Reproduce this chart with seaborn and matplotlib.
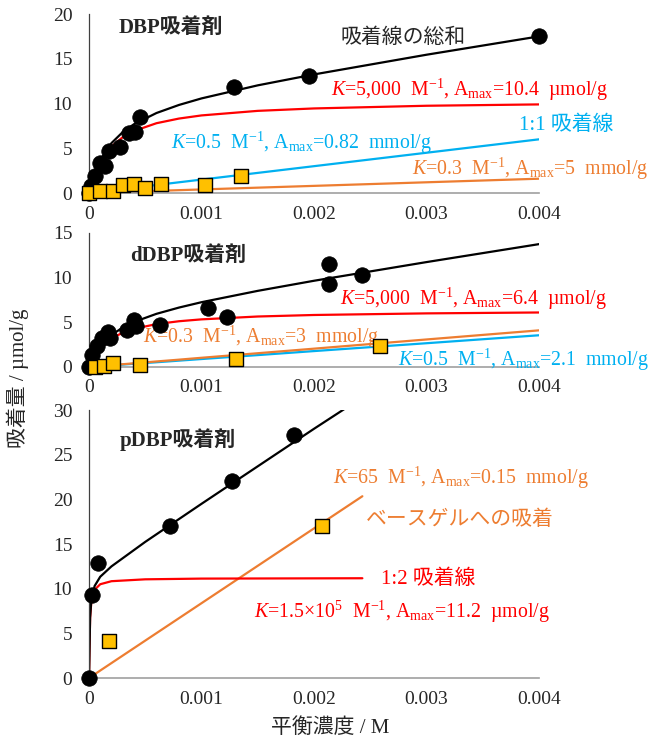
import numpy as np
import seaborn as sns
from matplotlib import pyplot as plt

# ---- DBP panel ----
dbp_circle_c = [0.0, 0.00002, 0.00005, 0.0001, 0.00014, 0.00018, 0.00028, 0.00036, 0.00041, 0.00045, 0.00129, 0.00196, 0.004]
dbp_circle_q = [0.0, 0.8, 1.9, 3.4, 3.0, 4.7, 5.1, 6.7, 6.8, 8.5, 11.8, 13.1, 17.5]
dbp_square_c = [0.0, 0.0001, 0.00021, 0.0003, 0.0004, 0.0005, 0.00064, 0.00103, 0.00135]
dbp_square_q = [0.05, 0.2, 0.25, 0.9, 1.0, 0.6, 1.0, 0.95, 1.85]

dbp_curve_c = [0.0, 0.00005, 0.0001, 0.0002, 0.0003, 0.0004, 0.0006, 0.0008, 0.001, 0.0015, 0.002, 0.003, 0.004]
dbp_red_q = [0.0, 2.08, 3.47, 5.2, 6.24, 6.93, 7.8, 8.32, 8.67, 9.18, 9.45, 9.75, 9.9]
dbp_blue_q = [0.0, 0.08, 0.15, 0.3, 0.45, 0.6, 0.9, 1.2, 1.5, 2.25, 3.0, 4.5, 6.0]
dbp_orange_q = [0.0, 0.02, 0.04, 0.08, 0.12, 0.16, 0.24, 0.32, 0.4, 0.6, 0.8, 1.2, 1.6]
dbp_sum_q = [0.0, 2.18, 3.66, 5.58, 6.81, 7.69, 8.94, 9.84, 10.57, 12.03, 13.25, 15.45, 17.5]

# ---- dDBP panel ----
ddbp_circle_c = [0.0, 0.00003, 0.00007, 0.00012, 0.00017, 0.00019, 0.00034, 0.0004, 0.00042, 0.00063, 0.00106, 0.00123, 0.00213, 0.00213, 0.00243]
ddbp_circle_q = [0.0, 1.35, 2.3, 3.2, 3.9, 3.3, 4.1, 5.3, 4.6, 4.7, 6.6, 5.6, 11.5, 9.3, 10.3]
ddbp_square_c = [0.00005, 0.00013, 0.00021, 0.00045, 0.00131, 0.00259]
ddbp_square_q = [0.0, 0.1, 0.4, 0.25, 0.9, 2.3]

ddbp_curve_c = [0.0, 0.00005, 0.0001, 0.0002, 0.0003, 0.0004, 0.0006, 0.0008, 0.001, 0.0015, 0.002, 0.003, 0.004]
ddbp_red_q = [0.0, 1.28, 2.13, 3.2, 3.84, 4.27, 4.8, 5.12, 5.33, 5.65, 5.82, 6.0, 6.1]
ddbp_orange_q = [0.0, 0.05, 0.1, 0.2, 0.31, 0.41, 0.62, 0.82, 1.03, 1.54, 2.05, 3.08, 4.1]
ddbp_blue_q = [0.0, 0.04, 0.09, 0.18, 0.27, 0.36, 0.53, 0.71, 0.89, 1.33, 1.78, 2.66, 3.55]
ddbp_sum_q = [0.0, 1.37, 2.32, 3.58, 4.42, 5.04, 5.95, 6.65, 7.25, 8.52, 9.65, 11.74, 13.75]

# ---- pDBP panel ----
pdbp_circle_c = [0.0, 0.00003, 0.00008, 0.00072, 0.00127, 0.00182]
pdbp_circle_q = [0.0, 9.35, 12.9, 17.0, 22.1, 27.2]
pdbp_square_c = [0.00018, 0.00207]
pdbp_square_q = [4.1, 17.0]

pdbp_red_c = [0.0, 0.00001, 0.00002, 0.00005, 0.0001, 0.0002, 0.0005, 0.001, 0.00243]
pdbp_red_q = [0.0, 6.72, 8.4, 9.88, 10.5, 10.84, 11.05, 11.13, 11.17]
pdbp_orange_c = [0.0, 0.00243]
pdbp_orange_q = [0.0, 20.35]
pdbp_sum_c = [0.0, 0.00001, 0.00002, 0.00005, 0.0001, 0.0002, 0.0005, 0.001, 0.0015, 0.002, 0.0025]
pdbp_sum_q = [0.0, 6.8, 8.57, 10.3, 11.34, 12.5, 15.24, 19.5, 23.7, 27.9, 32.0]

x_ticks = [0, 0.001, 0.002, 0.003, 0.004]
x_labels = ["0", "0.001", "0.002", "0.003", "0.004"]

RED = "#FF0000"
BLUE = "#00B0F0"
ORANGE = "#ED7D31"
GOLD = "#FFC000"


def style_axis(ax, ymax):
    ax.set_xlim(0, 0.004)
    ax.set_ylim(0, ymax)
    ax.set_xticks(x_ticks, x_labels)
    ax.set_yticks(np.arange(0, ymax + 1, 5))
    for side in ["top", "right"]:
        ax.spines[side].set_visible(False)
    ax.spines["left"].set_color("#404040")
    ax.spines["bottom"].set_color("#A0A0A0")
    ax.spines["left"].set_linewidth(0.9)
    ax.spines["bottom"].set_linewidth(1.2)
    ax.tick_params(axis="y", length=4, width=0.9, color="#404040", labelsize=14, pad=8)
    ax.tick_params(axis="x", length=4, width=1.2, color="#A0A0A0", labelsize=14, pad=5)
    ax.set_xlabel("")
    ax.set_ylabel("")


def line(ax, x, y, color):
    sns.lineplot(x=x, y=y, ax=ax, color=color, lw=1.6, sort=False, estimator=None, zorder=2)


def points(ax, cx, cy, sx, sy):
    sns.scatterplot(x=cx, y=cy, ax=ax, marker="o", s=125, color="black", edgecolor="black",
                    linewidth=0.5, zorder=4, clip_on=False)
    sns.scatterplot(x=sx, y=sy, ax=ax, marker="s", s=110, color=GOLD, edgecolor="black",
                    linewidth=1.0, zorder=5, clip_on=False)


def main():
    sns.set_style("white")
    plt.rcParams["font.family"] = ["Liberation Serif", "Noto Sans CJK JP"]
    plt.rcParams["mathtext.fontset"] = "custom"
    plt.rcParams["mathtext.rm"] = "Liberation Serif"
    plt.rcParams["mathtext.it"] = "Liberation Serif:italic"

    fig = plt.figure(figsize=(6.49, 7.45), dpi=100)
    ax1 = fig.add_axes([0.1371, 0.7409, 0.6934, 0.2403])
    ax2 = fig.add_axes([0.1371, 0.5074, 0.6934, 0.1799])
    ax3 = fig.add_axes([0.1371, 0.0899, 0.6934, 0.3597])

    fs = 14.3
    fj = 15
    sup = r"$^{\mathregular{-1}}$"
    amax = r"A$_{\mathregular{max}}$"

    # DBP
    line(ax1, dbp_curve_c, dbp_orange_q, ORANGE)
    line(ax1, dbp_curve_c, dbp_blue_q, BLUE)
    line(ax1, dbp_curve_c, dbp_red_q, RED)
    line(ax1, dbp_curve_c, dbp_sum_q, "black")
    points(ax1, dbp_circle_c, dbp_circle_q, dbp_square_c, dbp_square_q)
    style_axis(ax1, 20)
    ax1.text(0.00026, 18.4, "DBP吸着剤", fontsize=fj, fontweight="bold", va="center")
    ax1.text(0.00224, 17.3, "吸着線の総和", fontsize=fj, va="center")
    ax1.text(0.00215, 11.5, r"$K$=5,000  M" + sup + ", " + amax + "=10.4  µmol/g",
             fontsize=fs, color=RED, va="center", clip_on=False)
    ax1.text(0.00382, 7.6, "1:1 吸着線", fontsize=fj, color=BLUE, va="center")
    ax1.text(0.00073, 5.6, r"$K$=0.5  M" + sup + ", " + amax + "=0.82  mmol/g",
             fontsize=fs, color=BLUE, va="center")
    ax1.text(0.00287, 2.7, r"$K$=0.3  M" + sup + ", " + amax + "=5  mmol/g",
             fontsize=fs, color=ORANGE, va="center")

    # dDBP
    line(ax2, ddbp_curve_c, ddbp_blue_q, BLUE)
    line(ax2, ddbp_curve_c, ddbp_orange_q, ORANGE)
    line(ax2, ddbp_curve_c, ddbp_red_q, RED)
    line(ax2, ddbp_curve_c, ddbp_sum_q, "black")
    points(ax2, ddbp_circle_c, ddbp_circle_q, ddbp_square_c, ddbp_square_q)
    style_axis(ax2, 15)
    ax2.text(0.00037, 12.4, "dDBP吸着剤", fontsize=fj, fontweight="bold", va="center")
    ax2.text(0.00223, 7.57, r"$K$=5,000  M" + sup + ", " + amax + "=6.4  µmol/g",
             fontsize=fs, color=RED, va="center")
    ax2.text(0.00048, 3.37, r"$K$=0.3  M" + sup + ", " + amax + "=3  mmol/g",
             fontsize=fs, color=ORANGE, va="center", zorder=3)
    ax2.text(0.00275, 0.82, r"$K$=0.5  M" + sup + ", " + amax + "=2.1  mmol/g",
             fontsize=fs, color=BLUE, va="center")

    # pDBP
    line(ax3, pdbp_orange_c, pdbp_orange_q, ORANGE)
    line(ax3, pdbp_red_c, pdbp_red_q, RED)
    line(ax3, pdbp_sum_c, pdbp_sum_q, "black")
    points(ax3, pdbp_circle_c, pdbp_circle_q, pdbp_square_c, pdbp_square_q)
    style_axis(ax3, 30)
    ax3.text(0.000275, 26.7, "pDBP吸着剤", fontsize=fj, fontweight="bold", va="center")
    ax3.text(0.00217, 22.45, r"$K$=65  M" + sup + ", " + amax + "=0.15  mmol/g",
             fontsize=fs, color=ORANGE, va="center")
    ax3.text(0.00246, 17.66, "ベースゲルへの吸着", fontsize=fj, color=ORANGE, va="center")
    ax3.text(0.0026, 11.04, "1:2 吸着線", fontsize=fj, color=RED, va="center")
    ax3.text(0.00147, 7.37, r"$K$=1.5×10$^{\mathregular{5}}$  M" + sup + ", " + amax + "=11.2  µmol/g",
             fontsize=fs, color=RED, va="center")

    fig.text(18 / 649, 1 - 378 / 745, "吸着量 / µmol/g", rotation=90, fontsize=15,
             ha="center", va="center")
    fig.text(330 / 649, 1 - 728 / 745, "平衡濃度 / M", fontsize=15, ha="center", va="center")

    fig.savefig("out.png", dpi=100)
    plt.close(fig)


if __name__ == '__main__':
    main()
